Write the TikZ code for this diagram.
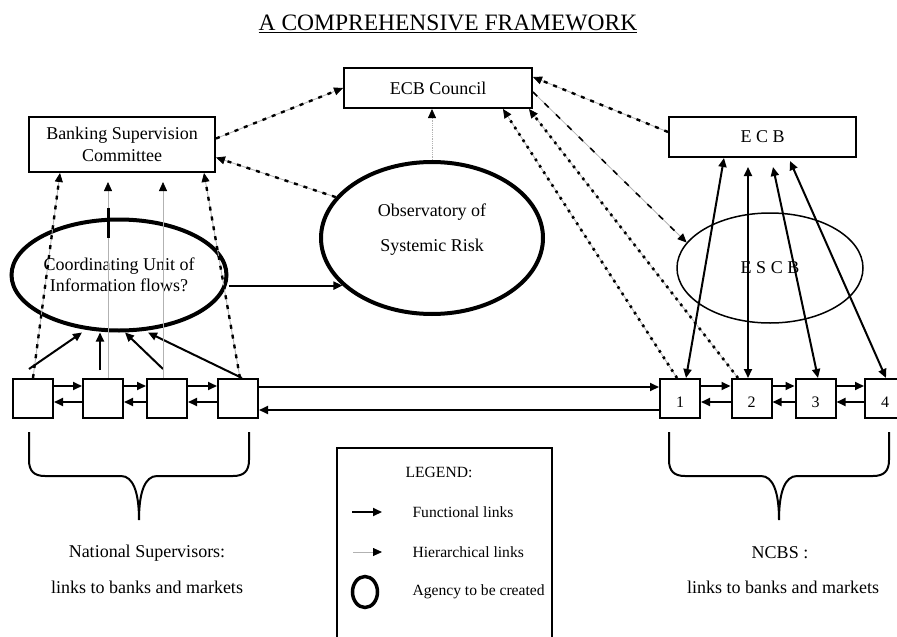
\documentclass[tikz,border=0pt]{standalone}
\usepackage{fontspec}
\setmainfont{Liberation Serif}
\usetikzlibrary{arrows.meta,shapes.geometric}

\begin{document}
\begin{tikzpicture}[x=1pt,y=-1pt,
    >={Triangle[length=9pt,width=8pt]},
    txt/.style={font=\fontsize{18}{22}\selectfont, align=center},
    box/.style={draw, line width=2pt, minimum width=40pt, minimum height=39pt, inner sep=0pt, text height=18pt, font=\fontsize{16}{18}\selectfont},
    unit/.style={draw, line width=2pt, inner sep=0pt, txt},
    agency/.style={draw, ellipse, line width=4pt, inner sep=0pt, txt},
    func/.style={line width=2pt, ->},
    hier/.style={draw=gray!60, line width=0.8pt, -{Triangle[length=9pt,width=8pt,color=black]}},
    link/.style={hier, postaction={draw=black, -, shorten >=9pt, #1}},
    dashlink/.style={link={line width=2.4pt, dash pattern=on 4pt off 6pt}},
    dotlink/.style={link={line width=2.6pt, dash pattern=on 2.6pt off 5pt}},
    thinlink/.style={link={line width=1.6pt, dash pattern=on 6pt off 10pt}},
    legtxt/.style={font=\fontsize{15.6}{18}\selectfont, anchor=west}]
  \useasboundingbox (0,0) rectangle (897,637);

  \node[font=\fontsize{23.5}{26}\selectfont, anchor=base] (title) at (448,30) {\underline{A COMPREHENSIVE FRAMEWORK}};

  \node[unit, minimum width=188pt, minimum height=40pt] (council) at (438,88) {ECB Council};
  \node[unit, minimum width=186pt, minimum height=55pt] (bsc) at (122,144.5) {Banking Supervision\\Committee};
  \node[unit, minimum width=187pt, minimum height=40pt] (ecb) at (762.5,137) {E C B};

  \node[agency, minimum width=222pt, minimum height=152pt] (obs) at (432,238) {};
  \node[txt, font=\fontsize{18}{35}\selectfont] (obstext) at (432,230) {Observatory of\\Systemic Risk};
  \node[agency, minimum width=215pt, minimum height=111pt, font=\fontsize{18}{21}\selectfont] (cu) at (119,275) {Coordinating Unit of\\Information flows?};
  \node[draw, ellipse, line width=1.5pt, minimum width=186pt, minimum height=110pt, inner sep=0pt, txt] (escb) at (770,268) {E S C B};

  \foreach \n/\x in {1/33,2/103,3/167,4/238}
    \node[box] (n\n) at (\x,398.5) {};
  \foreach \n/\x in {1/680,2/751.5,3/815.5,4/885}
    \node[box] (r\n) at (\x,398.5) {\n};

  \foreach \a/\b in {n1/n2,n2/n3,n3/n4,r1/r2,r2/r3,r3/r4} {
    \draw[func] ([yshift=12.5pt]\a.east) -- ([yshift=12.5pt]\b.west);
    \draw[func] ([yshift=-3.5pt]\b.west) -- ([yshift=-3.5pt]\a.east);
  }
  \draw[func] ([yshift=11.5pt]n4.east) -- ([yshift=11.5pt]r1.west);
  \draw[func] ([yshift=-11.5pt]r1.west) -- ([yshift=-11.5pt]n4.east);

  \draw[func] ([shift={(-4pt,9pt)}]n1.north) -- ([xshift=-37pt]cu.south);
  \draw[func] ([shift={(-3pt,8pt)}]n2.north) -- ([xshift=-19pt]cu.south);
  \draw[func] ([shift={(-4pt,9pt)}]n3.north) -- ([xshift=6pt]cu.south);
  \draw[func] ([xshift=4pt]n4.north) -- ([xshift=29pt]cu.south);
  \draw[func] (cu.east |- obs.208) -- (obs.208);

  \draw[dashlink] (n1.north) -- ([xshift=-62pt]bsc.south);
  \draw[hier] ([xshift=5pt]n2.north) -- ([shift={(5pt,-9pt)}]n2.north |- bsc.south);
  \draw[line width=3pt] ([xshift=5pt]n2.north |- cu.north) ++(0,-10) -- ++(0,30);
  \draw[hier] ([xshift=-4pt]n3.north) -- ([shift={(-4pt,-9pt)}]n3.north |- bsc.south);
  \draw[dashlink] ([xshift=2pt]n4.north) -- ([xshift=82pt]bsc.south);

  \draw[dashlink] ([yshift=6pt]bsc.east) -- (council.west);
  \draw[dashlink] (obs.157) -- ([yshift=-13pt]bsc.east);
  \draw[hier, densely dotted] (obs.north) -- (obs.north |- council.south);
  \draw[dashlink] ([yshift=5pt]ecb.west) -- ([yshift=-10pt]council.north east);
  \draw[thinlink] ([yshift=-4pt]council.east) -- (escb.163);
  \draw[dotlink] ([xshift=-3pt]r1.north) -- ([xshift=65pt]council.south);
  \draw[dotlink] ([xshift=-13.5pt]r2.north) -- ([xshift=91pt]council.south);

  \draw[func, <->] ([xshift=6pt]r1.north) -- ([xshift=-38.5pt]ecb.south);
  \draw[func, <->] ([xshift=-3.5pt]r2.north) -- ([shift={(-14.5pt,-9pt)}]ecb.south);
  \draw[func, <->] ([xshift=2.5pt]r3.north) -- ([shift={(10.5pt,-9pt)}]ecb.south);
  \draw[func, <->] ([xshift=1pt]r4.north) -- ([shift={(27.5pt,-3pt)}]ecb.south);

  \foreach \l/\r in {29/249,669/889} {
    \pgfmathsetmacro{\m}{(\l+\r)/2}
    \draw[line width=2pt] (\l,432) -- (\l,460) .. controls (\l,471) and (\l+5,476) .. (\l+16,476)
      -- (\m-18,476) .. controls (\m-6,476) and (\m,492) .. (\m,520)
      .. controls (\m,492) and (\m+6,476) .. (\m+18,476)
      -- (\r-16,476) .. controls (\r-5,476) and (\r,471) .. (\r,460) -- (\r,432);
  }
  \node[txt] (natsup) at (147,553) {National Supervisors:};
  \node[txt] (natlinks) at (147,587) {links to banks and markets};
  \node[txt] (ncbs) at (780,553) {NCBS :};
  \node[txt] (ncblinks) at (783,587) {links to banks and markets};

  \draw[line width=2pt] (337,448) rectangle (552,660);
  \node[legtxt, anchor=center] (legend) at (439,472) {LEGEND:};
  \coordinate (fa) at (352,512);
  \coordinate (fb) at (382,512);
  \draw[func] (fa) -- (fb);
  \node[legtxt] (functional) at (409,512) {Functional links};
  \coordinate (ha) at (353,552);
  \coordinate (hb) at (382,552);
  \draw[hier] (ha) -- (hb);
  \node[legtxt] (hierarchical) at (409,552) {Hierarchical links};
  \node[draw, ellipse, line width=3.5pt, minimum width=25pt, minimum height=31pt, inner sep=0pt] (agency) at (365,592) {};
  \node[legtxt] (agencytxt) at (409,592) {Agency to be created};
\end{tikzpicture}
\end{document}
